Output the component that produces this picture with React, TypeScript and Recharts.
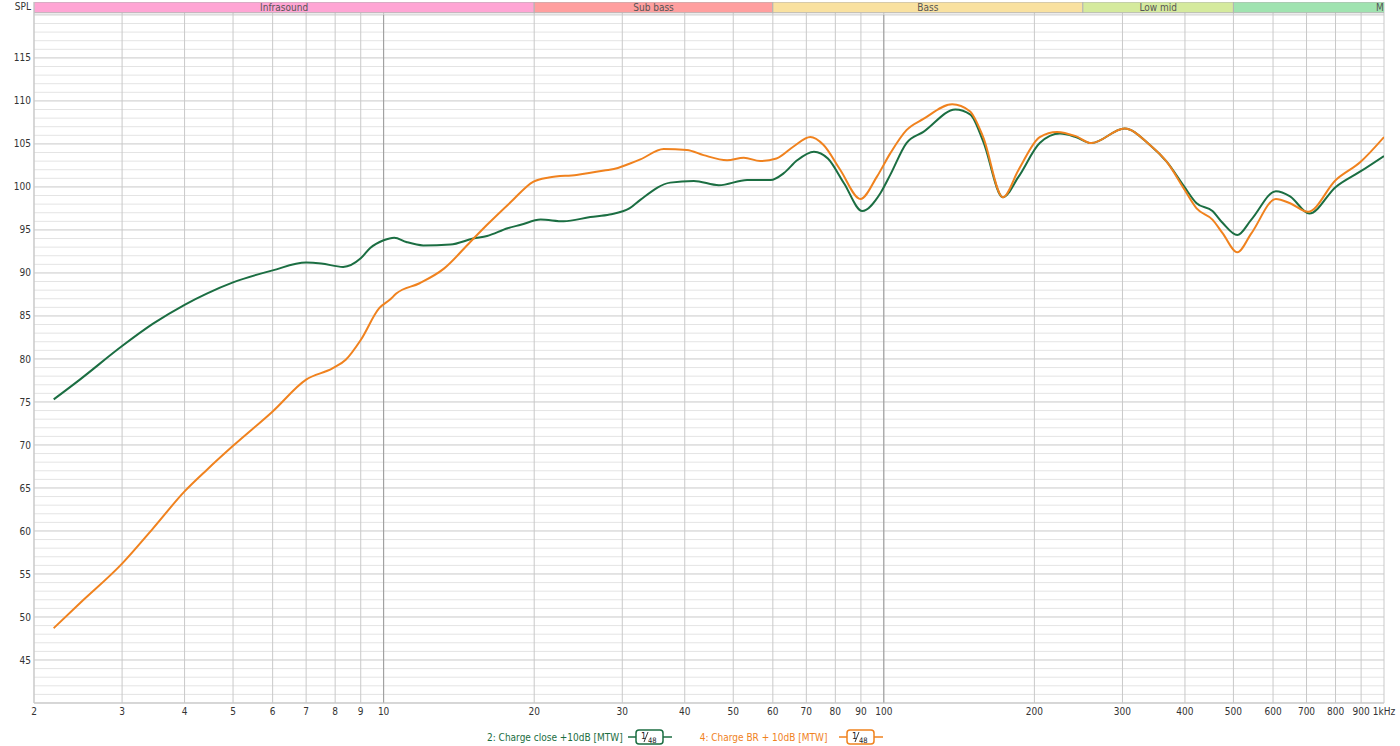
import React from 'react';
import { LineChart, Line, XAxis, YAxis, CartesianGrid, ReferenceArea, ReferenceLine } from 'recharts';

const greenFreq = [2.19, 2.47, 3.0, 3.46, 4.0, 4.43, 5.0, 6.0, 7.0, 7.5, 8.3, 9.0, 9.4, 10, 10.5, 11.1, 12.0, 13.6, 15.1, 16.1, 17.7, 18.8, 20.6, 22.9, 25.9, 28.3, 31, 32.6, 37.4, 41.7, 46.8, 53.3, 59.4, 63.1, 67.1, 72.5, 77.3, 83.3, 90.5, 98.5, 103, 111, 120, 139, 149, 158, 173, 186, 205, 225, 242, 260, 303, 340, 368, 399, 422, 454, 476, 509, 543, 608, 649, 709, 801, 897, 1000];
const greenSpl = [75.3, 77.6, 81.5, 84.1, 86.3, 87.6, 88.9, 90.3, 91.2, 91.1, 90.7, 91.7, 92.9, 93.8, 94.1, 93.6, 93.2, 93.3, 94.0, 94.3, 95.2, 95.6, 96.2, 96.0, 96.5, 96.8, 97.5, 98.5, 100.5, 100.7, 100.2, 100.8, 100.8, 101.6, 103.1, 104.1, 103.3, 100.4, 97.2, 99.3, 101.4, 105.1, 106.4, 109.0, 108.4, 105.3, 98.8, 101.2, 105.1, 106.2, 105.8, 105.1, 106.8, 104.9, 102.9, 100.0, 98.1, 97.2, 95.8, 94.4, 96.2, 99.5, 98.9, 96.9, 100.0, 101.8, 103.6];

const orangeFreq = [2.19, 2.47, 3.0, 3.46, 4.0, 4.43, 5.0, 6.0, 7.0, 7.9, 8.4, 9.0, 9.8, 10.3, 10.6, 11.8, 13.2, 14.9, 16.1, 18, 19.9, 21.4, 24.3, 27.6, 29.4, 31, 32.6, 36.3, 40.4, 43.6, 48.6, 52.5, 56.6, 61, 66, 71.3, 75.7, 81.8, 89.8, 96.9, 103, 111, 120, 137, 148.6, 158, 173, 186, 205, 222, 242, 260, 303, 340, 368, 399, 422, 454, 476, 509, 543, 608, 649, 705, 801, 897, 1000];
const orangeSpl = [48.7, 51.6, 56.2, 60.3, 64.6, 67.1, 69.9, 73.9, 77.6, 78.9, 79.9, 82.2, 85.9, 86.9, 87.6, 88.8, 90.5, 93.6, 95.6, 98.3, 100.6, 101.1, 101.4, 101.9, 102.2, 102.7, 103.2, 104.4, 104.3, 103.7, 103.1, 103.4, 103.0, 103.3, 104.7, 105.8, 104.9, 102.0, 98.6, 101.2, 103.9, 106.6, 107.9, 109.6, 108.8, 105.8, 98.8, 102.0, 105.8, 106.4, 105.9, 105.1, 106.8, 104.9, 102.9, 99.7, 97.5, 96.2, 94.6, 92.4, 94.6, 98.6, 98.1, 97.1, 100.8, 102.9, 105.8];

const xTicks = [2, 3, 4, 5, 6, 7, 8, 9, 10, 20, 30, 40, 50, 60, 70, 80, 90, 100, 200, 300, 400, 500, 600, 700, 800, 900, 1000];
const yTicks = [45, 50, 55, 60, 65, 70, 75, 80, 85, 90, 95, 100, 105, 110, 115];
const majorGridY = [40, 45, 50, 55, 60, 65, 70, 75, 80, 85, 90, 95, 100, 105, 110, 115, 120];
const minorGridY = [41, 42, 43, 44, 46, 47, 48, 49, 51, 52, 53, 54, 56, 57, 58, 59, 61, 62, 63, 64, 66, 67, 68, 69, 71, 72, 73, 74, 76, 77, 78, 79, 81, 82, 83, 84, 86, 87, 88, 89, 91, 92, 93, 94, 96, 97, 98, 99, 101, 102, 103, 104, 106, 107, 108, 109, 111, 112, 113, 114, 116, 117, 118, 119];
const decadeLines = [10, 100];
const X_MIN = 2;
const X_MAX = 1000;

const bandNames = ['Infrasound', 'Sub bass', 'Bass', 'Low mid', 'Mid'];
const bandStart = [2, 20, 60, 250, 500];
const bandEnd = [20, 60, 250, 500, 2000];
const bandColors = ['#ffa5d4', '#ff9f9f', '#f9e1a0', '#d5ea9d', '#a0e3b0'];

const seriesNames = ['2: Charge close +10dB [MTW]', '4: Charge BR + 10dB [MTW]'];
const seriesColors = ['#1b6e42', '#f0821e'];

const FONT = "'DejaVu Sans Condensed', 'Liberation Sans Narrow', 'Roboto', sans-serif";

const greenData = greenFreq.map((f, i) => ({ f, v: greenSpl[i] }));
const orangeData = orangeFreq.map((f, i) => ({ f, v: orangeSpl[i] }));

const Icon = ({ color }: { color: string }) => (
  <svg width={44} height={16} style={{ display: 'block' }}>
    <line x1={0} y1={8} x2={44} y2={8} stroke={color} strokeWidth={1.5} />
    <rect x={8} y={1} width={27} height={14} rx={3} ry={3} fill="#fff" stroke={color} strokeWidth={1.5} />
    <text x={13} y={10} fontSize={9} fill="#222" fontFamily={FONT}>1</text>
    <line x1={20} y1={3} x2={16} y2={13} stroke="#222" strokeWidth={0.9} />
    <text x={20} y={13.5} fontSize={7.5} fill="#222" fontFamily={FONT}>48</text>
  </svg>
);

const makeBandLabel = (i: number) => (props: any) => {
  const vb = props.viewBox || {};
  const x = vb.x || 0;
  const y = vb.y || 0;
  const w = vb.width || 0;
  const h = vb.height || 0;
  const frac = Math.min(1, Math.log(X_MAX / bandStart[i]) / Math.log(bandEnd[i] / bandStart[i]));
  const right = x + w * frac;
  const id = `band-clip-${i}`;
  return (
    <g>
      <defs>
        <clipPath id={id}>
          <rect x={x} y={y - 2} width={right - x} height={h + 4} />
        </clipPath>
      </defs>
      <text
        x={x + w / 2}
        y={y + h / 2}
        dy="0.36em"
        textAnchor="middle"
        fontSize={10}
        fill="#555"
        fontFamily={FONT}
        clipPath={`url(#${id})`}
      >
        {bandNames[i]}
      </text>
    </g>
  );
};

export default function App() {
  return (
    <div style={{ position: 'absolute', left: 0, top: 0, width: 1400, height: 746, background: '#fff', fontFamily: FONT }}>
      <LineChart width={1400} height={746} margin={{ top: 2, right: 16, bottom: 0, left: 0 }}>
        <CartesianGrid vertical={false} horizontalValues={minorGridY} stroke="#e4e4e4" strokeWidth={1} />
        <CartesianGrid horizontalValues={majorGridY} verticalValues={xTicks} stroke="#c9c9c9" strokeWidth={1} />
        <XAxis
          type="number"
          dataKey="f"
          scale="log"
          domain={[X_MIN, X_MAX]}
          allowDataOverflow
          ticks={xTicks}
          interval={0}
          height={43}
          tickLine={false}
          tickSize={0}
          tickMargin={5}
          axisLine={{ stroke: '#c9c9c9' }}
          tick={{ fontSize: 10, fill: '#333', fontFamily: FONT }}
          tickFormatter={(v: number) => (v === 1000 ? '1kHz' : String(v))}
        />
        <YAxis
          type="number"
          domain={[40, 121.5]}
          allowDataOverflow
          ticks={yTicks}
          interval={0}
          width={34}
          tickLine={false}
          tickSize={0}
          tickMargin={3}
          axisLine={{ stroke: '#c9c9c9' }}
          tick={{ fontSize: 10, fill: '#333', fontFamily: FONT }}
          label={{ value: 'SPL', position: 'insideTopRight', offset: 0, dx: -3, dy: 1, fontSize: 10, fill: '#333', fontFamily: FONT }}
        />
        {decadeLines.map((x) => (
          <ReferenceLine key={x} segment={[{ x, y: 40 }, { x, y: 120 }]} stroke="#9b9b9b" strokeWidth={1} />
        ))}
        {bandNames.map((name, i) => (
          <ReferenceArea
            key={name}
            x1={bandStart[i]}
            x2={bandEnd[i]}
            y1={120.25}
            y2={121.5}
            ifOverflow="hidden"
            fill={bandColors[i]}
            fillOpacity={1}
            stroke="#b4b4b4"
            strokeWidth={1}
            label={makeBandLabel(i)}
          />
        ))}
        <Line data={greenData} dataKey="v" type="monotone" stroke={seriesColors[0]} strokeWidth={2} dot={false} isAnimationActive={false} />
        <Line data={orangeData} dataKey="v" type="monotone" stroke={seriesColors[1]} strokeWidth={2} dot={false} isAnimationActive={false} />
      </LineChart>
      <div style={{ position: 'absolute', top: 729, left: 487, display: 'flex', alignItems: 'center', fontSize: 10, whiteSpace: 'nowrap' }}>
        <span style={{ color: seriesColors[0] }}>{seriesNames[0]}</span>
        <span style={{ marginLeft: 5 }}><Icon color={seriesColors[0]} /></span>
        <span style={{ color: seriesColors[1], marginLeft: 28 }}>{seriesNames[1]}</span>
        <span style={{ marginLeft: 12 }}><Icon color={seriesColors[1]} /></span>
      </div>
    </div>
  );
}
